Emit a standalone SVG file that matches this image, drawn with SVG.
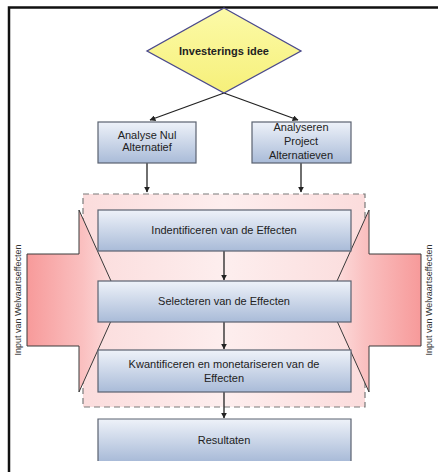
<svg xmlns="http://www.w3.org/2000/svg" width="438" height="472" viewBox="0 0 438 472">
<defs>
<style>
text{font-family:"Liberation Sans",Arial,sans-serif;fill:#222;}
.lbl{font-size:11px;text-anchor:middle;}
.box{fill:url(#boxg);stroke:#5a6270;stroke-width:1.2;}
.con{stroke:#222;stroke-width:1.3;fill:none;marker-end:url(#ah);}
.side{font-size:9px;text-anchor:middle;fill:#333;}
.bigarrow{stroke:#3a3a3a;stroke-width:1;}
</style>
<linearGradient id="boxg" x1="0" y1="0" x2="0" y2="1">
<stop offset="0" stop-color="#eef2f9"/>
<stop offset="1" stop-color="#a9bbd8"/>
</linearGradient>
<linearGradient id="dia" x1="0" y1="0" x2="0" y2="1">
<stop offset="0" stop-color="#fcfaa8"/>
<stop offset="1" stop-color="#f6f07a"/>
</linearGradient>
<linearGradient id="zone" x1="0" y1="0" x2="1" y2="0">
<stop offset="0" stop-color="#fbdcdc"/>
<stop offset="0.5" stop-color="#fdeeee"/>
<stop offset="1" stop-color="#fbdcdc"/>
</linearGradient>
<linearGradient id="la" gradientUnits="userSpaceOnUse" x1="27" y1="0" x2="120" y2="0">
<stop offset="0" stop-color="#f79a9a"/>
<stop offset="0.6" stop-color="#fac0c0"/>
<stop offset="1" stop-color="#fde4e4"/>
</linearGradient>
<linearGradient id="ra" gradientUnits="userSpaceOnUse" x1="421" y1="0" x2="328" y2="0">
<stop offset="0" stop-color="#f79a9a"/>
<stop offset="0.6" stop-color="#fac0c0"/>
<stop offset="1" stop-color="#fde4e4"/>
</linearGradient>
<marker id="ah" viewBox="0 0 10 10" refX="9" refY="5" markerWidth="6" markerHeight="6" orient="auto" markerUnits="userSpaceOnUse">
<path d="M0,0 L10,5 L0,10 z" fill="#222"/>
</marker>
</defs>
<rect width="438" height="472" fill="#ffffff"/>
<path d="M9,472 L9,7.5 L438,7.5" fill="none" stroke="#111" stroke-width="2.5"/>

<g id="zone-effecten">
<rect x="83" y="194" width="282" height="213" fill="url(#zone)" stroke="#7a7a7a" stroke-width="1.2" stroke-dasharray="6 4"/>
</g>

<g id="input-left">
<polygon class="bigarrow" points="27,254 79,254 79,210 120,301 79,392 79,346 27,346" fill="url(#la)"/>
<text class="side" transform="translate(21,300) rotate(-90)">Input van Welvaartseffecten</text>
</g>
<g id="input-right">
<polygon class="bigarrow" points="421,254 369,254 369,210 328,301 369,392 369,346 421,346" fill="url(#ra)"/>
<text class="side" transform="translate(432,300) rotate(-90)">Input van Welvaartseffecten</text>
</g>

<g id="connectors">
<line class="con" x1="224" y1="93" x2="150" y2="120"/>
<line class="con" x1="224" y1="93" x2="298" y2="120"/>
<line class="con" x1="147" y1="163" x2="147" y2="192"/>
<line class="con" x1="301" y1="163" x2="301" y2="192"/>
<line class="con" x1="224" y1="251" x2="224" y2="280"/>
<line class="con" x1="224" y1="322" x2="224" y2="349"/>
<line class="con" x1="224" y1="392" x2="224" y2="418"/>
</g>

<g id="investerings-idee">
<polygon points="224,8 301,51 224,93 147,51" fill="url(#dia)" stroke="#4b4a8c" stroke-width="1.3"/>
<text class="lbl" x="224" y="55" font-weight="bold">Investerings idee</text>
</g>

<g id="analyse-nul">
<rect class="box" x="98" y="122" width="98" height="41"/>
<text class="lbl" x="147" y="139">Analyse Nul</text>
<text class="lbl" x="147" y="151">Alternatief</text>
</g>

<g id="analyseren-project">
<rect class="box" x="252" y="122" width="99" height="41"/>
<text class="lbl" x="301" y="131">Analyseren</text>
<text class="lbl" x="301" y="145">Project</text>
<text class="lbl" x="301" y="159">Alternatieven</text>
</g>

<g id="identificeren">
<rect class="box" x="98" y="210" width="253" height="41"/>
<text class="lbl" x="224" y="234">Indentificeren van de Effecten</text>
</g>

<g id="selecteren">
<rect class="box" x="98" y="281" width="253" height="41"/>
<text class="lbl" x="224" y="305">Selecteren van de Effecten</text>
</g>

<g id="kwantificeren">
<rect class="box" x="98" y="350" width="253" height="42"/>
<text class="lbl" x="224" y="368">Kwantificeren en monetariseren van de</text>
<text class="lbl" x="224" y="382">Effecten</text>
</g>

<g id="resultaten">
<rect x="98" y="419" width="253" height="42" fill="url(#boxg)"/>
<path d="M98,461 L98,419 L351,419 L351,461" fill="none" stroke="#5a6270" stroke-width="1.2"/>
<text class="lbl" x="224" y="444">Resultaten</text>
</g>
</svg>
